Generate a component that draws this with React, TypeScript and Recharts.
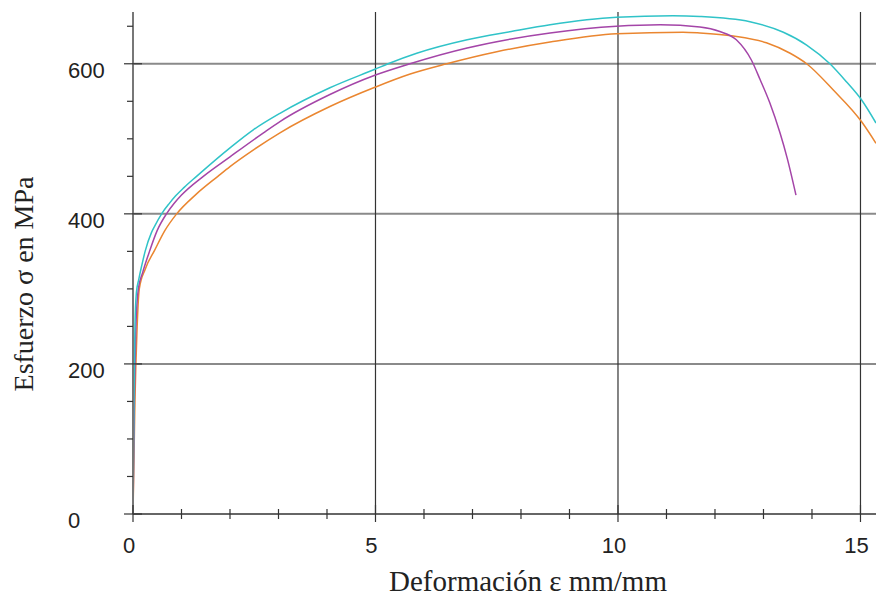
import React from 'react';
import { LineChart, Line, XAxis, YAxis, ReferenceLine, Label } from 'recharts';

// Curve 1 (cyan)
const cyanStrain = [0, 0.02, 0.04, 0.07, 0.12, 0.18, 0.25, 0.38, 0.45, 0.59, 0.75, 0.88, 1.05, 1.31, 2.0, 2.48, 3.03, 4.06, 5.0, 5.26, 5.85, 6.89, 7.8, 8.6, 9.97, 11.13, 11.69, 12.72, 13.41, 13.89, 14.37, 14.71, 15.02, 15.32];
const cyanStress = [0, 150, 250, 295, 313, 331, 350, 375, 384, 400, 414, 424, 435, 450, 488, 512, 534, 568, 593, 600, 614, 632, 643, 652, 662, 664, 663, 656, 642, 625, 600, 576, 552, 521];

// Curve 2 (magenta)
const magentaStrain = [0, 0.03, 0.06, 0.11, 0.2, 0.34, 0.5, 0.69, 0.85, 1.0, 1.45, 2.0, 2.69, 3.03, 4.06, 5.0, 5.71, 6.89, 7.8, 8.6, 9.97, 10.87, 11.69, 12.1, 12.44, 12.75, 12.93, 13.13, 13.34, 13.49, 13.67];
const magentaStress = [0, 160, 250, 300, 322, 350, 378, 400, 414, 425, 450, 476, 508, 523, 559, 585, 600, 621, 633, 641, 650, 652, 649, 643, 632, 605, 579, 548, 508, 474, 425];

// Curve 3 (orange)
const orangeStrain = [0, 0.04, 0.08, 0.13, 0.25, 0.45, 0.65, 0.9, 1.3, 1.75, 2.0, 2.5, 3.03, 4.06, 5.0, 5.7, 6.47, 7.5, 8.6, 9.97, 11.34, 11.69, 12.38, 13.06, 13.55, 13.89, 14.44, 15.02, 15.32];
const orangeStress = [0, 150, 240, 300, 326, 352, 377, 400, 426, 450, 463, 486, 508, 543, 569, 586, 600, 616, 629, 640, 642, 641, 637, 628, 614, 600, 565, 523, 494];

const xTicks = [0, 1, 2, 3, 4, 5, 6, 7, 8, 9, 10, 11, 12, 13, 14, 15];
const xLabels = [0, 5, 10, 15];
const yTicks = [0, 50, 100, 150, 200, 250, 300, 350, 400, 450, 500, 550, 600, 650];
const yLabels = [0, 200, 400, 600];
const xGrid = [5, 10, 15];
const yGrid = [200, 400, 600];

const xTitle = 'Deformación ε mm/mm';
const yTitle = 'Esfuerzo σ en MPa';

const toPoints = (xs: number[], ys: number[]) => xs.map((x, i) => ({ x, y: ys[i] }));
const cyanData = toPoints(cyanStrain, cyanStress);
const magentaData = toPoints(magentaStrain, magentaStress);
const orangeData = toPoints(orangeStrain, orangeStress);

const SANS = '"Liberation Sans", Arial, Helvetica, sans-serif';
const SERIF = '"Liberation Serif", "Times New Roman", Times, serif';

const XTick = (props: any) => {
  const { x, y, payload } = props;
  const v = payload.value;
  const major = xLabels.includes(v);
  return (
    <g>
      <line x1={x} x2={x} y1={major ? y - 9 : y - 5} y2={major ? y + 8 : y + 5} stroke="#333" strokeWidth={1.2} />
      {major && (
        <text x={x - 4} y={y + 39} textAnchor="middle" fontSize={22} fontFamily={SANS} fill="#222">
          {v}
        </text>
      )}
    </g>
  );
};

const YTick = (props: any) => {
  const { x, y, payload } = props;
  const v = payload.value;
  const major = yLabels.includes(v);
  return (
    <g>
      <line x1={major ? x - 9 : x - 6} x2={major ? x + 9 : x} y1={y} y2={y} stroke="#333" strokeWidth={1.2} />
      {major && (
        <text x={x - 65} y={y + 14} textAnchor="start" fontSize={22} fontFamily={SANS} fill="#222">
          {v}
        </text>
      )}
    </g>
  );
};

export default function App() {
  return (
    <div style={{ position: 'absolute', left: 0, top: 0, width: 876, height: 598, background: '#fff' }}>
      <LineChart width={876} height={598} margin={{ top: 12, right: 0, bottom: 0, left: 0 }}>
        <XAxis
          type="number"
          dataKey="x"
          domain={[0, 15.32]}
          allowDataOverflow
          ticks={xTicks}
          interval={0}
          tick={<XTick />}
          tickLine={false}
          tickSize={0}
          tickMargin={0}
          height={84}
          axisLine={{ stroke: '#333', strokeWidth: 1.5 }}
        >
          <Label
            content={() => (
              <text x={528} y={591} textAnchor="middle" fontSize={29} fontFamily={SERIF} fill="#222">
                {xTitle}
              </text>
            )}
          />
        </XAxis>
        <YAxis
          type="number"
          domain={[0, 669]}
          allowDataOverflow
          ticks={yTicks}
          interval={0}
          tick={<YTick />}
          tickLine={false}
          tickSize={0}
          tickMargin={0}
          width={133}
          axisLine={{ stroke: '#777', strokeWidth: 2 }}
        >
          <Label
            content={() => (
              <text
                x={33}
                y={284}
                transform="rotate(-90, 33, 284)"
                textAnchor="middle"
                fontSize={28}
                fontFamily={SERIF}
                fill="#222"
              >
                {yTitle}
              </text>
            )}
          />
        </YAxis>
        {yGrid.map((v) => (
          <ReferenceLine key={'h' + v} y={v} stroke="#8a8a8a" strokeWidth={2} />
        ))}
        {xGrid.map((v) => (
          <ReferenceLine key={'v' + v} x={v} stroke="#333" strokeWidth={1.2} />
        ))}
        <Line data={orangeData} dataKey="y" type="monotone" stroke="#ea8630" strokeWidth={1.5} dot={false} isAnimationActive={false} />
        <Line data={magentaData} dataKey="y" type="monotone" stroke="#a445a8" strokeWidth={1.5} dot={false} isAnimationActive={false} />
        <Line data={cyanData} dataKey="y" type="monotone" stroke="#30c3c8" strokeWidth={1.5} dot={false} isAnimationActive={false} />
      </LineChart>
    </div>
  );
}
